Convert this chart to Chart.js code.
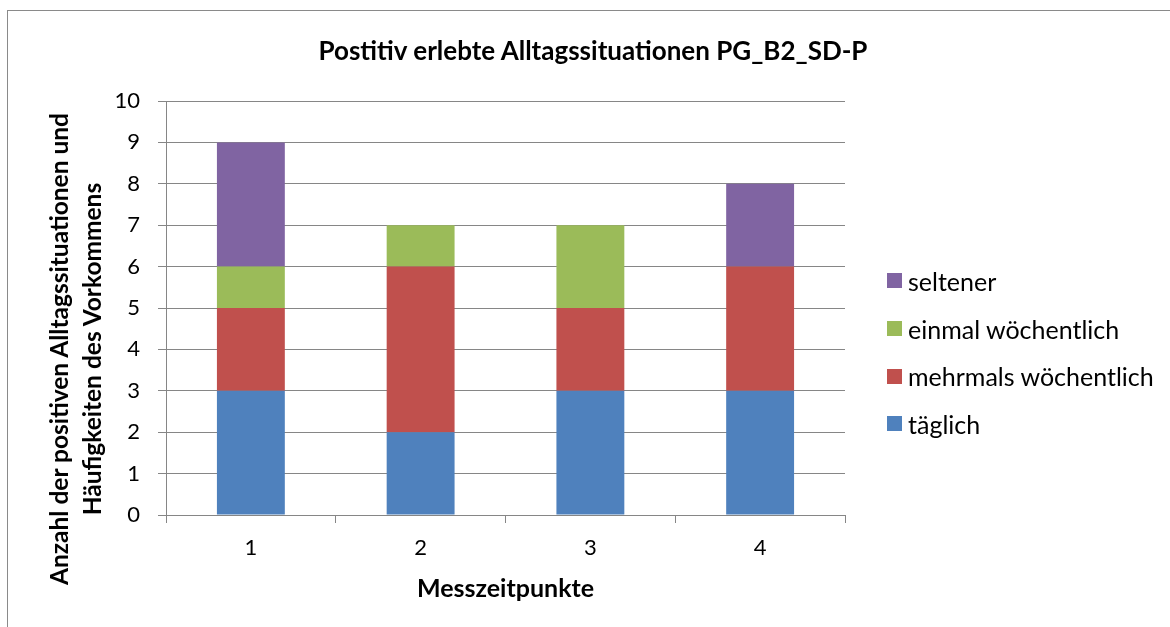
<!DOCTYPE html>
<html>
<head>
<meta charset="utf-8">
<script src="https://cdn.jsdelivr.net/npm/chart.js@4"></script>
<style>
  html, body { margin: 0; padding: 0; background: #fff; overflow: hidden; }
  #wrap { position: relative; width: 1170px; height: 627px; }
  #frame { position: absolute; left: 7px; top: 10px; width: 1200px; height: 700px; border: 1px solid #8a8a8a; }
  #chart { position: absolute; left: 0; top: 0; }
  #title {
    position: absolute; left: 293px; top: 50px; width: 600px;
    transform: translateY(-50%);
    font: bold 26px Lato, sans-serif; text-align: center; color: #000; white-space: nowrap;
  }
  #ytitle {
    position: absolute; left: 75px; top: 349px; width: 640px;
    transform: translate(-50%, -50%) rotate(-90deg);
    font: bold 24.5px Lato, sans-serif; line-height: 33px; text-align: center; color: #000;
  }
  #legend { position: absolute; left: 887px; top: 257px; font: 25px Lato, sans-serif; color: #000; }
  #legend div { height: 47.7px; display: flex; align-items: center; white-space: nowrap; }
  #legend span.box { display: inline-block; width: 15px; height: 15px; margin-right: 6px; }
</style>
</head>
<body>
<div id="wrap">
  <div id="frame"></div>
  <canvas id="chart" width="1170" height="627"></canvas>
  <div id="title">Postitiv erlebte Alltagssituationen PG_B2_SD-P</div>
  <div id="ytitle">Anzahl der positiven Alltagssituationen und<br>Häufigkeiten des Vorkommens</div>
  <div id="legend"></div>
</div>
<script>
// data
const categories = ['1', '2', '3', '4'];
const taeglich = [3, 2, 3, 3];
const mehrmals = [2, 4, 2, 3];
const einmal = [1, 1, 2, 0];
const seltener = [3, 0, 0, 2];
const seriesNames = ['täglich', 'mehrmals wöchentlich', 'einmal wöchentlich', 'seltener'];
const seriesColors = ['#4F81BD', '#C0504D', '#9BBB59', '#8064A2'];
const yTicks = [0, 1, 2, 3, 4, 5, 6, 7, 8, 9, 10];

const gridGray = '#868686';
const values = [taeglich, mehrmals, einmal, seltener];

const datasets = values.map((v, i) => ({
    label: seriesNames[i],
    data: v,
    backgroundColor: seriesColors[i],
    borderWidth: 0,
    barPercentage: 0.4,
    categoryPercentage: 1.0
}));

const ctx = document.getElementById('chart').getContext('2d');
window.myChart = new Chart(ctx, {
    type: 'bar',
    data: { labels: categories, datasets: datasets },
    options: {
        responsive: false,
        animation: false,
        layout: { padding: { left: 16, right: 325, top: 101, bottom: 0 } },
        plugins: {
            legend: { display: false },
            tooltip: { enabled: false },
            title: { display: false }
        },
        scales: {
            x: {
                stacked: true,
                afterFit: s => { s.height = 112; },
                grid: { display: true, drawOnChartArea: false, drawTicks: true, tickLength: 8, color: gridGray, offset: true },
                border: { color: gridGray, width: 1 },
                ticks: { color: '#000', padding: 12, font: { family: 'Lato', size: 22 } },
                title: {
                    display: true, text: 'Messzeitpunkte', color: '#000',
                    font: { family: 'Lato', size: 25, weight: 'bold' },
                    padding: { top: 0, bottom: 23 }
                }
            },
            y: {
                stacked: true,
                min: 0, max: 10,
                afterFit: s => { s.width = 150; },
                afterBuildTicks: s => { s.ticks = yTicks.map(v => ({ value: v })); },
                grid: { color: gridGray, tickLength: 8, lineWidth: 1 },
                border: { color: gridGray, width: 1 },
                ticks: { color: '#000', padding: 18, font: { family: 'Lato', size: 22 } }
            }
        }
    }
});

// legend, in reverse order like the original
const legendDiv = document.getElementById('legend');
for (let i = seriesNames.length - 1; i >= 0; i--) {
    legendDiv.innerHTML += `<div><span class="box" style="background:${seriesColors[i]}"></span>${seriesNames[i]}</div>`;
}
</script>
</body>
</html>
